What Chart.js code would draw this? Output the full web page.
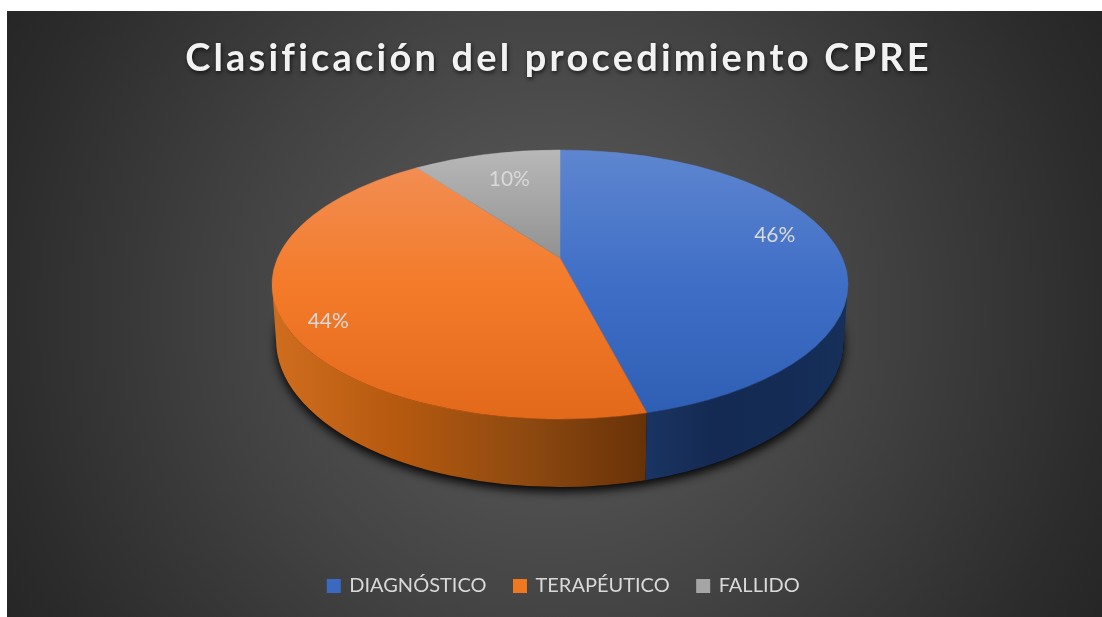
<!DOCTYPE html>
<html>
<head>
<meta charset="utf-8">
<title>Clasificación del procedimiento CPRE</title>
<script src="https://cdn.jsdelivr.net/npm/chart.js@4/dist/chart.umd.min.js"></script>
<style>
  html, body { margin: 0; padding: 0; background: #fff; }
  canvas { display: block; }
</style>
</head>
<body>
<canvas id="cpreChart" width="1102" height="617"></canvas>
<script>
const categories = ["DIAGNÓSTICO", "TERAPÉUTICO", "FALLIDO"];
const values = [46, 44, 10];
const legendColors = ["#3A69BF", "#F0781F", "#A5A5A5"];

// top face and base of the 3D pie, k moves the centre point for the perspective
const top3d = { x: 560, y: 284.5, rx: 288, ry: 134.5, k: -0.197 };
const base3d = { x: 560, y: 340, rx: 284, ry: 147 };

// where the percent labels go: fraction of the radius, then a small nudge
const labelFrac = [0.8, 0.87, 0.74];
const labelNudge = [[-5, -10], [8, 12], [6, 1]];

function project(angle) {
  const u = Math.cos(angle), v = Math.sin(angle);
  const d = 1 + top3d.k * v;
  return { u: u * Math.sqrt(1 - top3d.k * top3d.k) / d, v: (v + top3d.k) / d };
}

function ellipseAngle(angle) {
  const p = project(angle);
  let t = Math.atan2(p.v, p.u);
  if (t < -Math.PI / 2 - 0.001) t += Math.PI * 2;
  if (angle > Math.PI && t < 0) t += Math.PI * 2;
  return t;
}

function faceGradient(ctx, stops) {
  const g = ctx.createLinearGradient(0, 150, 0, 420);
  stops.forEach((c, i) => g.addColorStop(i / (stops.length - 1), c));
  return g;
}

function wallGradient(ctx, x0, x1, stops) {
  const g = ctx.createLinearGradient(x0, 0, x1, 0);
  stops.forEach((c, i) => g.addColorStop(i / (stops.length - 1), c));
  return g;
}

function drawWall(ctx, t0, t1, fill) {
  const a = Math.max(t0, 0), b = Math.min(t1, Math.PI);
  if (b <= a) return;
  ctx.beginPath();
  ctx.ellipse(top3d.x, top3d.y, top3d.rx, top3d.ry, 0, a, b);
  ctx.ellipse(base3d.x, base3d.y, base3d.rx, base3d.ry, 0, b, a, true);
  ctx.closePath();
  ctx.fillStyle = fill;
  ctx.fill();
}

const backgroundPlugin = {
  id: "cardBackground",
  beforeDraw(chart) {
    const { ctx } = chart;
    const g = ctx.createRadialGradient(552, 314, 0, 552, 314, 625);
    g.addColorStop(0, "#5E5E5E");
    g.addColorStop(0.5, "#434343");
    g.addColorStop(0.88, "#2C2C2C");
    g.addColorStop(1, "#262626");
    ctx.save();
    ctx.fillStyle = g;
    ctx.fillRect(7, 11, 1095, 606);
    ctx.restore();
  },
};

// title and legend need letter spacing, shadow and a small shift the options don't have
const boxTweaks = {
  id: "boxTweaks",
  afterLayout(chart) {
    const title = chart.titleBlock;
    const legend = chart.legend;
    if (!title.plainDraw) {
      title.plainDraw = title.draw;
      title.draw = function () {
        const ctx = chart.ctx;
        ctx.save();
        ctx.translate(-5.5, 4);
        ctx.letterSpacing = "3.2px";
        ctx.shadowColor = "rgba(0,0,0,0.65)";
        ctx.shadowBlur = 4;
        ctx.shadowOffsetX = 1;
        ctx.shadowOffsetY = 2;
        title.plainDraw();
        ctx.restore();
      };
      legend.plainDraw = legend.draw;
      legend.draw = function () {
        const ctx = chart.ctx;
        ctx.save();
        ctx.translate(0, -11);
        legend.plainDraw();
        ctx.restore();
      };
    }
  },
};

const pie3dPlugin = {
  id: "pie3d",
  beforeDatasetDraw(chart, args) {
    const { ctx } = chart;
    const arcs = args.meta.data;
    const total = values.reduce((a, b) => a + b, 0);

    const faceFills = [
      faceGradient(ctx, ["#5E86D0", "#3F6EC6", "#2E5EB4"]),
      faceGradient(ctx, ["#F29058", "#F37B2A", "#E3691A"]),
      faceGradient(ctx, ["#B8B8B8", "#888888", "#888888"]),
    ];
    const wallFills = [
      wallGradient(ctx, 643, 846, ["#1A3564", "#142A52", "#142B54", "#16305A"]),
      wallGradient(ctx, 276, 645, ["#CF6D1E", "#B5590F", "#8F4A10", "#683208"]),
      "#666666",
    ];

    ctx.save();

    // shadow under the base
    ctx.save();
    ctx.shadowColor = "rgba(0,0,0,0.9)";
    ctx.shadowBlur = 10;
    ctx.shadowOffsetY = 5;
    ctx.fillStyle = "#000";
    ctx.beginPath();
    ctx.ellipse(base3d.x, base3d.y, base3d.rx, base3d.ry, 0, 0, Math.PI * 2);
    ctx.fill();
    ctx.restore();

    // side walls
    [2, 1, 0].forEach((i) => {
      const a = arcs[i];
      drawWall(ctx, ellipseAngle(a.startAngle), ellipseAngle(a.endAngle), wallFills[i]);
    });

    // top face
    const vx = top3d.x;
    const vy = top3d.y + top3d.k * top3d.ry;
    arcs.forEach((a, i) => {
      ctx.beginPath();
      ctx.moveTo(vx, vy);
      ctx.ellipse(top3d.x, top3d.y, top3d.rx, top3d.ry, 0, ellipseAngle(a.startAngle), ellipseAngle(a.endAngle));
      ctx.closePath();
      ctx.fillStyle = faceFills[i];
      ctx.fill();
      ctx.strokeStyle = faceFills[i];
      ctx.lineWidth = 0.5;
      ctx.stroke();
    });

    // percent labels
    ctx.font = "21px Lato";
    ctx.fillStyle = "#D9D9D9";
    ctx.textAlign = "center";
    ctx.textBaseline = "middle";
    arcs.forEach((a, i) => {
      const mid = (a.startAngle + a.endAngle) / 2;
      const f = labelFrac[i];
      const u = f * Math.cos(mid), v = f * Math.sin(mid);
      const d = 1 + top3d.k * v;
      const x = top3d.x + top3d.rx * u * Math.sqrt(1 - top3d.k * top3d.k) / d;
      const y = top3d.y + top3d.ry * (v + top3d.k) / d;
      ctx.fillText(Math.round(values[i] / total * 100) + "%", x + labelNudge[i][0], y + labelNudge[i][1]);
    });

    ctx.restore();
    return false;
  },
};

new Chart(document.getElementById("cpreChart"), {
  type: "pie",
  data: {
    labels: categories,
    datasets: [{
      data: values,
      backgroundColor: legendColors,
      borderColor: legendColors,
      borderWidth: 3,
    }],
  },
  plugins: [backgroundPlugin, boxTweaks, pie3dPlugin],
  options: {
    responsive: false,
    animation: false,
    layout: { padding: { left: 26, top: 22 } },
    plugins: {
      title: {
        display: true,
        text: "Clasificación del procedimiento CPRE",
        color: "#F2F2F2",
        font: { family: "Lato", size: 38, weight: "bold" },
        padding: { top: 10, bottom: 10 },
      },
      legend: {
        position: "bottom",
        labels: {
          color: "#D9D9D9",
          font: { family: "Lato", size: 20 },
          boxWidth: 11,
          boxHeight: 11,
          padding: 28,
        },
      },
      tooltip: { enabled: false },
    },
  },
});
</script>
</body>
</html>
